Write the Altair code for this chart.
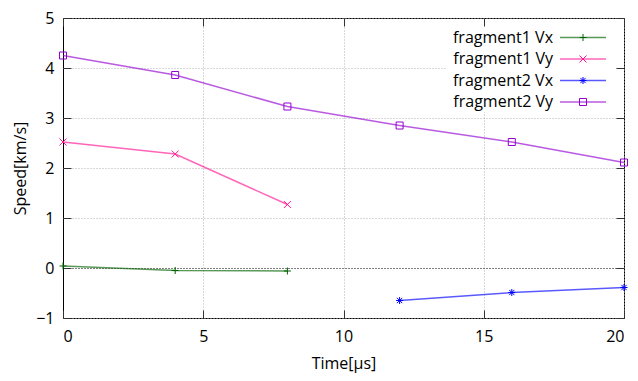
import altair as alt
import pandas as pd

series_names = ["fragment1 Vx", "fragment1 Vy", "fragment2 Vx", "fragment2 Vy"]
point_colors = ["#006400", "#ff1493", "#0000ff", "#9400d3"]

t_f1 = [0, 4, 8]
f1_vx = [0.04, -0.05, -0.06]
f1_vy = [2.52, 2.28, 1.27]
t_f2vx = [12, 16, 20]
f2_vx = [-0.65, -0.49, -0.39]
t_f2vy = [0, 4, 8, 12, 16, 20]
f2_vy = [4.25, 3.86, 3.23, 2.85, 2.52, 2.11]

x_ticks = [0, 5, 10, 15, 20]
y_ticks = [-1, 0, 1, 2, 3, 4, 5]

rows = []
for name, ts, vs in [
    (series_names[0], t_f1, f1_vx),
    (series_names[1], t_f1, f1_vy),
    (series_names[2], t_f2vx, f2_vx),
    (series_names[3], t_f2vy, f2_vy),
]:
    for t, v in zip(ts, vs):
        rows.append({"time": t, "speed": v, "series": name})
df = pd.DataFrame(rows)
legend_df = pd.DataFrame({"series": series_names})

FONT = "Open Sans"

shape_paths = [
    "M-1,0H1M0,-1V1",
    "M-1,-1L1,1M-1,1L1,-1",
    "M-1,0H1M0,-1V1M-0.75,-0.75L0.75,0.75M-0.75,0.75L0.75,-0.75",
    "M-1,-1H1V1H-1Z",
]

color_scale = alt.Scale(domain=series_names, range=point_colors)
shape_scale = alt.Scale(domain=series_names, range=shape_paths)
x_scale = alt.Scale(domain=[0, 20], nice=False, zero=False)
y_scale = alt.Scale(domain=[-1, 5], nice=False, zero=False)

grid_color = alt.condition("datum.value === 0", alt.value("#000000"), alt.value("#b0b0b0"))

x_bottom = alt.Axis(
    orient="bottom", values=x_ticks, offset=-8, tickSize=8, domain=False,
    grid=True, gridDash=[1, 2], gridColor=grid_color, gridWidth=1,
    labelPadding=10, title="Time[µs]", titlePadding=11,
)
y_left = alt.Axis(
    orient="left", values=y_ticks, offset=-8, tickSize=8, domain=False,
    grid=True, gridDash=[1, 2], gridColor=grid_color, gridWidth=1,
    labelPadding=9, title="Speed[km/s]", titlePadding=7,
)
x_top = alt.Axis(orient="top", values=x_ticks, offset=-8, tickSize=8, domain=False,
                 grid=False, labels=False, title=None)
y_right = alt.Axis(orient="right", values=y_ticks, offset=-8, tickSize=8, domain=False,
                   grid=False, labels=False, title=None)

lines = alt.Chart(df).mark_line(strokeWidth=1.5, opacity=0.65).encode(
    x=alt.X("time:Q", scale=x_scale, axis=x_bottom),
    y=alt.Y("speed:Q", scale=y_scale, axis=y_left),
    color=alt.Color("series:N", scale=color_scale, legend=None),
    detail="series:N",
)

points = alt.Chart(df).mark_point(size=49, strokeWidth=1, filled=False, opacity=1).encode(
    x=alt.X("time:Q", scale=x_scale, axis=None),
    y=alt.Y("speed:Q", scale=y_scale, axis=None),
    color=alt.Color("series:N", scale=color_scale, legend=None),
    shape=alt.Shape("series:N", scale=shape_scale, legend=None),
)

mirror = alt.Chart(df).mark_point(opacity=0).encode(
    x=alt.X("time:Q", scale=x_scale, axis=x_top),
    y=alt.Y("speed:Q", scale=y_scale, axis=y_right),
)

main = alt.layer(lines, points, mirror).resolve_axis(x="independent", y="independent")

legend_y = alt.Y("series:N", sort=series_names,
                 scale=alt.Scale(type="point", range=[19.5, 84], padding=0), axis=None)

legend_bg = alt.Chart(legend_df).mark_rect(fill="white", stroke=None).encode(
    x=alt.value(383), x2=alt.value(553), y=alt.value(9), y2=alt.value(94),
)
legend_text = alt.Chart(legend_df).mark_text(
    align="right", baseline="middle", font=FONT, fontSize=16, color="#000000"
).encode(x=alt.value(490), y=legend_y, text="series:N")
legend_rule = alt.Chart(legend_df).mark_rule(strokeWidth=1.5, opacity=0.65).encode(
    x=alt.value(497), x2=alt.value(543), y=legend_y,
    color=alt.Color("series:N", scale=color_scale, legend=None),
)
legend_pts = alt.Chart(legend_df).mark_point(size=49, strokeWidth=1, filled=False, opacity=1).encode(
    x=alt.value(520), y=legend_y,
    color=alt.Color("series:N", scale=color_scale, legend=None),
    shape=alt.Shape("series:N", scale=shape_scale, legend=None),
)

legend = alt.layer(legend_bg, legend_rule, legend_pts, legend_text)

chart = alt.layer(legend, main).resolve_scale(y="independent").properties(
    width=561, height=300,
    autosize=alt.AutoSizeParams(type="none"),
    padding={"left": 55, "top": 10, "right": 6, "bottom": 55},
).configure_view(stroke="#000000", strokeWidth=1).configure_axis(
    labelFont=FONT, labelFontSize=16, labelColor="#000000",
    titleFont=FONT, titleFontSize=16, titleFontWeight="normal", titleColor="#000000",
    tickColor="#333333", tickWidth=1,
)

chart.save("out.html", embed_options={"renderer": "svg", "actions": False})
